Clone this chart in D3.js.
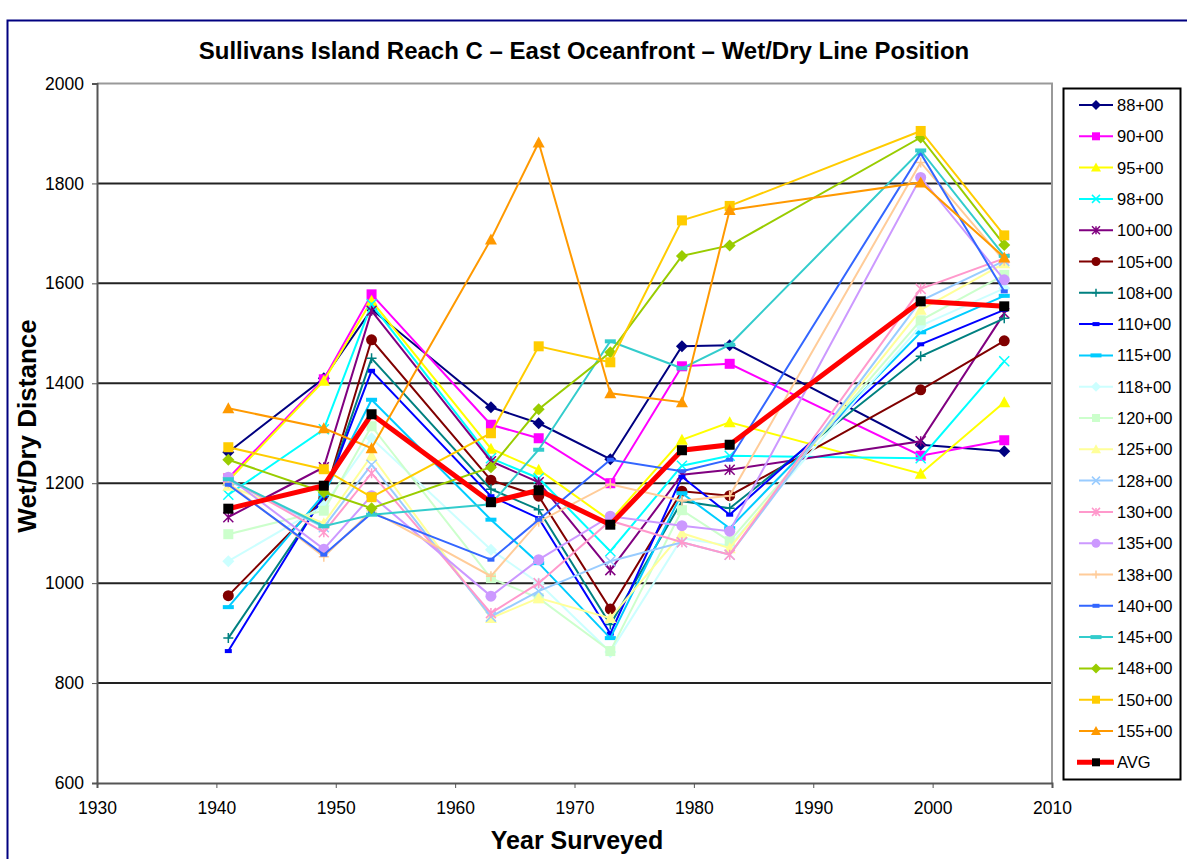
<!DOCTYPE html>
<meta charset="utf-8">
<style>
body { margin: 0; background: #fff; }
text { font-family: "Liberation Sans", Arial, sans-serif; }
.grid line { stroke: #222; stroke-width: 2px; }
.series path.ln { fill: none; }
</style>
<body>
<script src="https://d3js.org/d3.v7.min.js"></script>
<script>

var width = 1187,
    height = 859;

// survey years
var years = [1941, 1949, 1953, 1963, 1967, 1973, 1979, 1983, 1999, 2006];

// wet/dry line distance per station
var s8800  = [1262, 1410, 1548, 1352, 1320, 1248, 1474, 1476, 1277, 1264];
var s9000  = [1210, 1408, 1578, 1317, 1290, 1200, 1434, 1439, 1255, 1286];
var s9500  = [1205, 1405, 1565, 1269, 1227, 1125, 1287, 1322, 1219, 1362];
var s9800  = [1177, 1308, 1558, 1250, 1210, 1064, 1235, 1255, 1250, 1444];
var s10000 = [1132, 1232, 1545, 1244, 1202, 1026, 1217, 1227, 1284, 1540];
var s10500 = [975, 1170, 1487, 1206, 1174, 948, 1184, 1175, 1387, 1485];
var s10800 = [890, 1172, 1450, 1188, 1147, 917, 1164, 1150, 1454, 1530];
var s11000 = [864, 1175, 1425, 1174, 1130, 899, 1213, 1137, 1478, 1547];
var s11500 = [952, 1178, 1367, 1127, 1040, 890, 1180, 1110, 1502, 1575];
var s11800 = [1044, 1155, 1290, 1067, 1000, 862, 1090, 1075, 1515, 1590];
var s12000 = [1098, 1145, 1314, 1010, 970, 864, 1146, 1084, 1526, 1617];
var s12500 = [1195, 1120, 1255, 930, 970, 930, 1100, 1070, 1547, 1640];
var s12800 = [1205, 1112, 1237, 933, 984, 1044, 1082, 1057, 1565, 1645];
var s13000 = [1210, 1102, 1220, 940, 1000, 1125, 1082, 1057, 1589, 1650];
var s13500 = [1212, 1068, 1175, 974, 1047, 1134, 1115, 1104, 1812, 1607];
var s13800 = [1200, 1053, 1145, 1014, 1123, 1198, 1165, 1175, 1842, 1645];
var s14000 = [1197, 1057, 1140, 1047, 1127, 1247, 1224, 1247, 1860, 1584];
var s14500 = [1208, 1114, 1137, 1158, 1267, 1484, 1430, 1477, 1866, 1655];
var s14800 = [1247, 1182, 1150, 1232, 1348, 1462, 1655, 1676, 1892, 1677];
var s15000 = [1272, 1228, 1172, 1300, 1474, 1442, 1726, 1755, 1905, 1696];
var s15500 = [1350, 1310, 1270, 1688, 1882, 1380, 1362, 1747, 1802, 1652];
var avg    = [1149, 1195, 1338, 1162, 1186, 1117, 1266, 1277, 1564, 1554];

var names = ["88+00", "90+00", "95+00", "98+00", "100+00", "105+00", "108+00",
  "110+00", "115+00", "118+00", "120+00", "125+00", "128+00", "130+00",
  "135+00", "138+00", "140+00", "145+00", "148+00", "150+00", "155+00", "AVG"];
var values = [s8800, s9000, s9500, s9800, s10000, s10500, s10800, s11000, s11500,
  s11800, s12000, s12500, s12800, s13000, s13500, s13800, s14000, s14500,
  s14800, s15000, s15500, avg];

var colors = ["#000080", "#FF00FF", "#FFFF00", "#00FFFF", "#800080", "#800000",
  "#008080", "#0000FF", "#00CCFF", "#CCFFFF", "#CCFFCC", "#FFFF99", "#99CCFF",
  "#FF99CC", "#CC99FF", "#FFCC99", "#3366FF", "#33CCCC", "#99CC00", "#FFCC00",
  "#FF9900", "#FF0000"];
var markers = ["diamond", "square", "triangle", "x", "star", "circle", "plus",
  "dash", "longdash", "diamond", "square", "triangle", "x", "star", "circle",
  "plus", "dash", "longdash", "diamond", "square", "triangle", "square"];

var yTicks = [600, 800, 1000, 1200, 1400, 1600, 1800, 2000];
var xTicks = [1930, 1940, 1950, 1960, 1970, 1980, 1990, 2000, 2010];

var plot = {left: 97, right: 1052, top: 83.5, bottom: 783};

var x = d3.scaleLinear().domain([1930, 2010]).range([plot.left, plot.right]);
var y = d3.scaleLinear().domain([600, 2000]).range([plot.bottom, plot.top]);

var svg = d3.select("body").append("svg")
    .attr("width", width)
    .attr("height", height);

// outer chart frame
svg.append("rect")
    .attr("x", 7.5).attr("y", 20.5)
    .attr("width", 1200).attr("height", 900)
    .attr("fill", "#fff")
    .attr("stroke", "#000080")
    .attr("stroke-width", 2);

svg.append("text")
    .attr("x", 584).attr("y", 59)
    .attr("text-anchor", "middle")
    .style("font-size", "24px")
    .style("font-weight", "bold")
    .text("Sullivans Island Reach C \u2013 East Oceanfront \u2013 Wet/Dry Line Position");

// gridlines
svg.append("g").attr("class", "grid")
  .selectAll("line")
  .data(yTicks.filter(function(d) { return d > 600 && d < 2000; }))
  .enter().append("line")
    .attr("x1", plot.left).attr("x2", plot.right)
    .attr("y1", function(d) { return y(d); })
    .attr("y2", function(d) { return y(d); });

// plot border top / right
svg.append("path")
    .attr("d", "M" + plot.left + "," + plot.top + "H" + plot.right + "V" + plot.bottom)
    .attr("fill", "none")
    .attr("stroke", "#999")
    .attr("stroke-width", 2);

var yAxis = svg.append("g")
    .attr("transform", "translate(" + plot.left + ",0)")
    .call(d3.axisLeft(y).tickValues(yTicks).tickSize(5).tickPadding(8).tickFormat(d3.format("d")));
var xAxis = svg.append("g")
    .attr("transform", "translate(0," + plot.bottom + ")")
    .call(d3.axisBottom(x).tickValues(xTicks).tickSize(5).tickPadding(14).tickFormat(d3.format("d")));

[yAxis, xAxis].forEach(function(a) {
  a.select(".domain").attr("stroke", "#555").attr("stroke-width", 2);
  a.selectAll(".tick line").attr("stroke", "#555");
  a.selectAll("text")
    .style("font-size", "17.5px")
    .style("font-family", "'Liberation Sans', Arial, sans-serif")
    .attr("fill", "#000");
});

svg.append("text")
    .attr("transform", "translate(36,426) rotate(-90)")
    .attr("text-anchor", "middle")
    .style("font-size", "26px")
    .style("font-weight", "bold")
    .text("Wet/Dry Distance");

svg.append("text")
    .attr("x", 577).attr("y", 849)
    .attr("text-anchor", "middle")
    .style("font-size", "25px")
    .style("font-weight", "bold")
    .text("Year Surveyed");

function drawMarker(g, type, color, s) {
  var h = s / 2;
  if (type == "diamond") {
    g.append("path").attr("d", "M0," + (-h - 1) + "L" + (h + 1) + ",0L0," + (h + 1) + "L" + (-h - 1) + ",0Z")
      .attr("fill", color);
  } else if (type == "square") {
    g.append("rect").attr("x", -h).attr("y", -h).attr("width", s).attr("height", s)
      .attr("fill", color);
  } else if (type == "triangle") {
    g.append("path").attr("d", "M0," + (-h - 1) + "L" + (h + 1) + "," + h + "L" + (-h - 1) + "," + h + "Z")
      .attr("fill", color);
  } else if (type == "circle") {
    g.append("circle").attr("r", h + 0.5).attr("fill", color);
  } else if (type == "x") {
    g.append("path").attr("d", "M" + -h + "," + -h + "L" + h + "," + h + "M" + h + "," + -h + "L" + -h + "," + h)
      .attr("stroke", color).attr("stroke-width", 1.5);
  } else if (type == "star") {
    g.append("path").attr("d", "M" + -h + "," + -h + "L" + h + "," + h + "M" + h + "," + -h + "L" + -h + "," + h + "M0," + -h + "V" + h)
      .attr("stroke", color).attr("stroke-width", 1.5);
  } else if (type == "plus") {
    g.append("path").attr("d", "M" + -h + ",0H" + h + "M0," + -h + "V" + h)
      .attr("stroke", color).attr("stroke-width", 1.5);
  } else if (type == "dash") {
    g.append("rect").attr("x", -3.5).attr("y", -2).attr("width", 7).attr("height", 4)
      .attr("fill", color);
  } else if (type == "longdash") {
    g.append("rect").attr("x", -5.5).attr("y", -2).attr("width", 11).attr("height", 4)
      .attr("fill", color);
  }
}

var line = d3.line()
    .x(function(d) { return x(d.year); })
    .y(function(d) { return y(d.value); });

var series = names.map(function(n, i) {
  return {
    name: n,
    color: colors[i],
    marker: markers[i],
    points: years.map(function(yr, j) { return {year: yr, value: values[i][j]}; })
  };
});

var g = svg.append("g").attr("class", "series")
  .selectAll("g")
  .data(series)
  .enter().append("g");

g.append("path")
    .attr("class", "ln")
    .attr("d", function(d) { return line(d.points); })
    .attr("stroke", function(d) { return d.color; })
    .attr("stroke-width", function(d) { return d.name == "AVG" ? 5 : 2; });

g.each(function(d) {
  var grp = d3.select(this);
  d.points.forEach(function(p) {
    var m = grp.append("g").attr("transform", "translate(" + x(p.year) + "," + y(p.value) + ")");
    drawMarker(m, d.marker, d.name == "AVG" ? "#000" : d.color, 10);
  });
});

// legend
var legend = svg.append("g");
legend.append("rect")
    .attr("x", 1063.5).attr("y", 88.5)
    .attr("width", 117).attr("height", 691)
    .attr("fill", "#fff")
    .attr("stroke", "#000")
    .attr("stroke-width", 2);

var item = legend.selectAll(".item")
  .data(series)
  .enter().append("g")
    .attr("class", "item")
    .attr("transform", function(d, i) { return "translate(0," + (105 + i * 31.3) + ")"; });

item.append("line")
    .attr("x1", function(d) { return d.name == "AVG" ? 1077 : 1079; })
    .attr("x2", function(d) { return d.name == "AVG" ? 1114 : 1113; })
    .attr("stroke", function(d) { return d.color; })
    .attr("stroke-width", function(d) { return d.name == "AVG" ? 5 : 2; });

item.each(function(d) {
  var m = d3.select(this).append("g").attr("transform", "translate(1096,0)");
  drawMarker(m, d.marker, d.name == "AVG" ? "#000" : d.color, 8);
});

item.append("text")
    .attr("x", 1117)
    .attr("y", 6)
    .style("font-size", "16.5px")
    .text(function(d) { return d.name; });

</script>
</body>
